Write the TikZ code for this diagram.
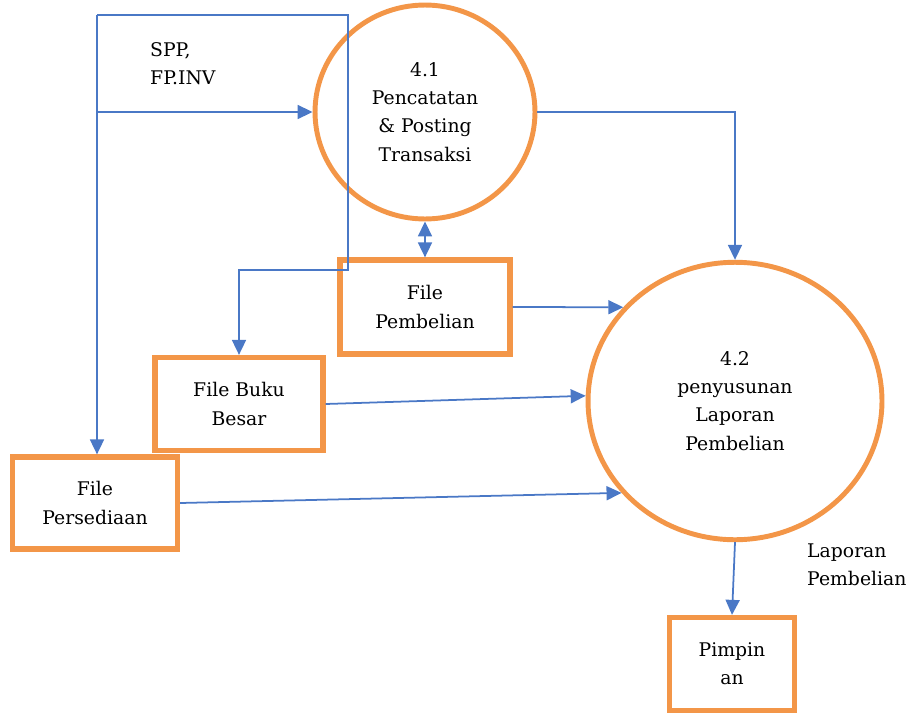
\documentclass[tikz,border=0pt]{standalone}
\usepackage{fontspec}
\newfontfamily\dfdfont{DejaVu Serif}
\usetikzlibrary{arrows.meta,positioning,shapes.geometric}
\definecolor{dfdorange}{RGB}{243,150,72}
\definecolor{dfdblue}{RGB}{74,120,198}

\begin{document}
\begin{tikzpicture}[x=0.02cm,y=-0.02cm,font=\dfdfont\fontsize{10.7}{16}\selectfont,
   proses/.style={ellipse,draw=dfdorange,line width=2.8pt,align=center,inner sep=0pt},
   berkas/.style={rectangle,draw=dfdorange,line width=3pt,align=center},
   alur/.style={draw=dfdblue,line width=1pt,>={Triangle[length=0.3cm,width=0.28cm]},->}]
   \useasboundingbox (0,0) rectangle (909,717);
   \node[proses,minimum width=4.4cm,minimum height=4.28cm] (p41) at (425,112) {4.1\\Pencatatan\\\& Posting\\Transaksi};
   \node[proses,minimum width=5.88cm,minimum height=5.55cm] (p42) at (735,401) {4.2\\penyusunan\\Laporan\\Pembelian};
   \node[berkas,minimum width=3.4cm,minimum height=1.88cm] (pembelian) at (425,307) {File\\Pembelian};
   \node[berkas,minimum width=3.36cm,minimum height=1.86cm] (bukubesar) at (239,404) {File Buku\\Besar};
   \node[berkas,minimum width=3.3cm,minimum height=1.84cm] (persediaan) at (95,503) {File\\Persediaan};
   \node[berkas,minimum width=2.5cm,minimum height=1.86cm] (pimpinan) at (732,664) {Pimpin\\an};
   \node[anchor=west,align=left] (lblspp) at (144,64) {SPP,\\FP.INV};
   \node[anchor=west,align=left] (lbllap) at (801,565) {Laporan\\Pembelian};
   \coordinate (simpul) at (97,15);
   \coordinate (belok) at (348,15);
   \coordinate (belok2) at (348,270);
   \draw[alur] (simpul) -- (simpul |- persediaan.north);
   \draw[alur] (simpul) -- (belok) -- (belok2) -- (belok2 -| bukubesar.north) -- (bukubesar.north);
   \draw[alur] (simpul |- p41.west) -- (p41.west);
   \draw[alur] (p41.east) -| (p42.north);
   \draw[alur,<->] (p41.south) -- (pembelian.north);
   \draw[alur] (pembelian.east) -- (p42.140);
   \draw[alur] (bukubesar.east) -- (p42.178);
   \draw[alur] (persediaan.east) -- (p42.219);
   \draw[alur] (p42.south) -- (pimpinan.north);
\end{tikzpicture}
\end{document}
